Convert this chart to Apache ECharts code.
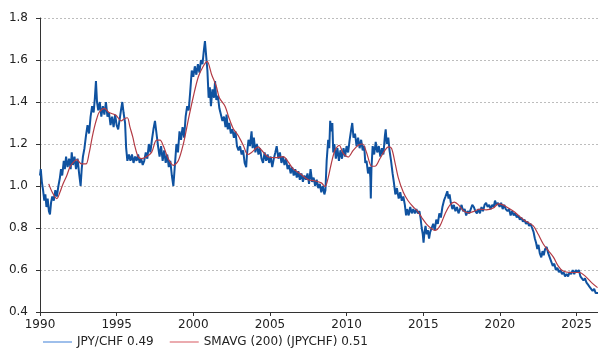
<!DOCTYPE html>
<html>
<head>
<meta charset="utf-8">
<title>JPY/CHF</title>
<script src="https://cdn.jsdelivr.net/npm/echarts@6/dist/echarts.min.js"></script>
<style>
  html, body { margin: 0; padding: 0; background: #fff; }
  #chart { width: 598px; height: 351px; }
</style>
</head>
<body>
<div id="chart"></div>
<script>
// JPY/CHF spot rate (decimal year, rate)
const spotYears = [
  1990.00,1990.05,1990.12,1990.20,1990.28,1990.35,1990.42,1990.50,1990.58,1990.65,1990.72,1990.80,1990.90,
  1991.00,1991.10,1991.20,1991.30,1991.37,1991.45,1991.55,1991.62,1991.70,1991.80,1991.90,
  1992.00,1992.07,1992.15,1992.25,1992.35,1992.45,1992.55,1992.65,1992.72,1992.80,1992.90,
  1993.00,1993.10,1993.20,1993.30,1993.40,1993.50,1993.58,1993.65,1993.72,1993.80,1993.90,
  1994.00,1994.10,1994.20,1994.30,1994.40,1994.50,1994.60,1994.70,1994.80,1994.90,
  1995.00,1995.10,1995.20,1995.30,1995.37,1995.45,1995.55,1995.62,1995.70,1995.80,1995.90,
  1996.00,1996.10,1996.20,1996.30,1996.40,1996.50,1996.60,1996.70,1996.80,1996.90,
  1997.00,1997.10,1997.20,1997.30,1997.40,1997.50,1997.60,1997.70,1997.80,1997.90,
  1998.00,1998.10,1998.20,1998.30,1998.40,1998.50,1998.60,1998.70,1998.78,1998.90,
  1999.00,1999.10,1999.20,1999.30,1999.40,1999.50,1999.60,1999.70,1999.80,1999.90,
  2000.00,2000.10,2000.20,2000.30,2000.40,2000.50,2000.60,2000.68,2000.76,2000.85,2000.92,
  2001.00,2001.08,2001.15,2001.25,2001.35,2001.42,2001.50,2001.60,2001.70,2001.80,2001.90,
  2002.00,2002.10,2002.17,2002.25,2002.35,2002.45,2002.55,2002.65,2002.75,2002.85,2002.95,
  2003.05,2003.15,2003.25,2003.35,2003.45,2003.50,2003.60,2003.70,2003.80,2003.87,2003.95,
  2004.05,2004.15,2004.25,2004.35,2004.45,2004.55,2004.65,2004.75,2004.85,2004.95,
  2005.05,2005.15,2005.25,2005.35,2005.44,2005.55,2005.65,2005.75,2005.85,2005.95,
  2006.05,2006.15,2006.25,2006.35,2006.45,2006.55,2006.65,2006.75,2006.85,2006.95,
  2007.05,2007.15,2007.25,2007.35,2007.45,2007.55,2007.65,2007.75,2007.85,2007.95,
  2008.05,2008.15,2008.25,2008.35,2008.45,2008.55,2008.62,2008.70,2008.80,2008.87,2008.93,
  2009.00,2009.07,2009.13,2009.20,2009.30,2009.40,2009.50,2009.60,2009.70,2009.80,2009.90,
  2010.00,2010.10,2010.20,2010.30,2010.37,2010.45,2010.55,2010.65,2010.75,2010.85,2010.95,
  2011.05,2011.15,2011.22,2011.30,2011.40,2011.50,2011.55,2011.58,2011.62,2011.70,2011.80,2011.90,
  2012.00,2012.10,2012.20,2012.30,2012.40,2012.50,2012.55,2012.62,2012.72,2012.80,2012.90,
  2013.00,2013.08,2013.18,2013.28,2013.40,2013.50,2013.60,2013.70,2013.80,2013.88,2013.95,
  2014.05,2014.15,2014.25,2014.35,2014.45,2014.55,2014.65,2014.75,2014.82,2014.90,2014.97,
  2015.02,2015.08,2015.15,2015.22,2015.30,2015.38,2015.45,2015.55,2015.65,2015.75,2015.85,2015.95,
  2016.05,2016.15,2016.25,2016.35,2016.45,2016.57,2016.65,2016.72,2016.80,2016.90,
  2017.00,2017.10,2017.20,2017.30,2017.40,2017.50,2017.60,2017.70,2017.80,2017.90,
  2018.00,2018.10,2018.20,2018.30,2018.40,2018.50,2018.60,2018.70,2018.80,2018.90,
  2019.00,2019.10,2019.20,2019.30,2019.40,2019.50,2019.60,2019.68,2019.78,2019.88,2019.98,
  2020.08,2020.18,2020.28,2020.38,2020.50,2020.60,2020.70,2020.80,2020.90,
  2021.00,2021.10,2021.20,2021.30,2021.40,2021.50,2021.60,2021.70,2021.80,2021.90,
  2022.00,2022.10,2022.20,2022.28,2022.36,2022.44,2022.52,2022.60,2022.70,2022.78,2022.86,2022.95,
  2023.05,2023.15,2023.25,2023.35,2023.45,2023.55,2023.65,2023.75,2023.85,2023.95,
  2024.05,2024.15,2024.25,2024.35,2024.45,2024.55,2024.65,2024.75,2024.85,2024.95,
  2025.05,2025.15,2025.25,2025.35,2025.45,2025.55,2025.65,2025.75,2025.85,2025.95,
  2026.05,2026.15,2026.25,2026.35,2026.40
];
const spotRates = [
  1.05,1.08,1.02,0.98,0.93,0.96,0.90,0.94,0.88,0.865,0.92,0.95,0.93,
  0.98,0.95,1.00,1.04,1.08,1.05,1.12,1.08,1.14,1.09,1.13,
  1.08,1.16,1.10,1.14,1.08,1.13,1.06,1.00,1.08,1.14,1.18,
  1.24,1.29,1.25,1.33,1.38,1.35,1.42,1.50,1.40,1.36,1.40,
  1.33,1.38,1.34,1.40,1.33,1.35,1.29,1.33,1.28,1.34,
  1.29,1.27,1.32,1.37,1.40,1.35,1.30,1.18,1.12,1.15,1.12,
  1.15,1.11,1.14,1.12,1.15,1.11,1.13,1.10,1.12,1.16,
  1.13,1.20,1.16,1.22,1.27,1.31,1.25,1.19,1.14,1.19,
  1.12,1.17,1.11,1.15,1.09,1.12,1.05,1.00,1.08,1.20,
  1.16,1.26,1.22,1.28,1.23,1.33,1.38,1.36,1.45,1.55,
  1.52,1.57,1.53,1.58,1.54,1.60,1.58,1.64,1.69,1.61,1.55,
  1.42,1.47,1.38,1.46,1.42,1.50,1.41,1.43,1.37,1.34,1.31,
  1.33,1.28,1.34,1.27,1.30,1.25,1.27,1.23,1.26,1.19,1.17,
  1.19,1.15,1.17,1.11,1.09,1.15,1.22,1.19,1.26,1.18,1.23,
  1.16,1.20,1.15,1.18,1.13,1.11,1.16,1.12,1.15,1.11,
  1.14,1.09,1.13,1.16,1.19,1.13,1.16,1.11,1.14,1.10,
  1.13,1.08,1.10,1.06,1.09,1.05,1.08,1.04,1.07,1.03,
  1.06,1.02,1.05,1.03,1.06,1.01,1.08,1.02,1.04,1.00,
  1.03,0.99,1.01,0.97,1.00,0.96,0.98,1.12,1.22,1.18,1.31,
  1.26,1.30,1.16,1.20,1.13,1.18,1.12,1.17,1.13,1.18,1.14,
  1.19,1.16,1.22,1.27,1.30,1.23,1.25,1.19,1.23,1.18,1.22,
  1.17,1.19,1.11,1.12,1.06,1.09,1.04,0.94,1.08,1.19,1.15,1.21,
  1.16,1.19,1.14,1.18,1.15,1.24,1.27,1.20,1.23,1.17,1.12,
  1.06,1.02,0.96,0.99,0.94,0.97,0.93,0.95,0.91,0.86,0.89,
  0.86,0.90,0.87,0.89,0.87,0.89,0.87,0.88,0.85,0.80,0.77,
  0.73,0.78,0.81,0.77,0.79,0.75,0.78,0.80,0.82,0.79,0.84,0.82,
  0.87,0.85,0.90,0.93,0.95,0.975,0.94,0.96,0.92,0.89,
  0.91,0.88,0.90,0.87,0.89,0.91,0.88,0.89,0.86,0.88,
  0.87,0.89,0.91,0.90,0.88,0.87,0.89,0.87,0.90,0.88,
  0.91,0.92,0.90,0.91,0.89,0.91,0.90,0.93,0.91,0.92,0.90,
  0.92,0.89,0.91,0.89,0.88,0.89,0.86,0.88,0.86,
  0.87,0.85,0.86,0.84,0.85,0.83,0.84,0.82,0.83,0.81,
  0.82,0.80,0.78,0.75,0.73,0.70,0.72,0.68,0.66,0.69,0.67,0.70,
  0.71,0.68,0.66,0.64,0.62,0.63,0.60,0.61,0.59,0.60,
  0.58,0.59,0.57,0.58,0.57,0.59,0.58,0.60,0.58,0.60,
  0.59,0.60,0.57,0.56,0.55,0.56,0.54,0.53,0.52,0.51,
  0.50,0.51,0.49,0.495,0.49
];

// 200-day simple moving average (decimal year, rate)
const smaYears = [
  1990.57,1990.80,1991.10,1991.30,1991.50,1991.75,1991.95,1992.20,1992.40,1992.70,
  1993.00,1993.20,1993.40,1993.55,1993.70,1993.85,1994.20,1994.50,1994.95,1995.30,
  1995.50,1995.70,1995.87,1996.05,1996.20,1996.40,1996.63,1996.96,1997.28,1997.60,
  1997.83,1998.05,1998.37,1998.70,1999.02,1999.35,1999.67,2000.00,2000.33,2000.65,
  2000.90,2001.20,2001.50,2001.70,2002.07,2002.30,2002.60,2002.93,2003.26,2003.55,
  2003.80,2004.24,2004.46,2004.90,2005.33,2005.87,2006.20,2006.50,2006.96,2007.50,
  2007.90,2008.35,2008.60,2008.80,2009.00,2009.24,2009.52,2009.78,2010.10,2010.43,
  2010.76,2011.04,2011.30,2011.63,2011.85,2012.17,2012.50,2012.72,2012.93,2013.15,
  2013.37,2013.70,2014.00,2014.35,2014.60,2014.90,2015.20,2015.55,2015.76,2016.09,
  2016.42,2016.75,2017.03,2017.30,2017.60,2017.94,2018.26,2018.70,2019.10,2019.57,
  2019.90,2020.20,2020.55,2020.98,2021.20,2021.64,2022.18,2022.50,2022.83,2023.16,
  2023.50,2023.80,2024.10,2024.57,2024.90,2025.20,2025.55,2025.98,2026.37
];
const smaRates = [
  1.01,0.97,0.94,0.97,1.01,1.05,1.09,1.115,1.126,1.105,
  1.105,1.155,1.23,1.28,1.32,1.35,1.37,1.35,1.337,1.31,
  1.32,1.325,1.28,1.234,1.186,1.14,1.13,1.14,1.16,1.218,
  1.218,1.19,1.13,1.098,1.12,1.20,1.314,1.425,1.52,1.57,
  1.593,1.53,1.475,1.42,1.38,1.33,1.274,1.24,1.194,1.15,
  1.16,1.186,1.17,1.138,1.135,1.14,1.114,1.083,1.059,1.03,
  1.025,1.015,0.997,1.04,1.106,1.17,1.194,1.155,1.138,1.17,
  1.194,1.20,1.16,1.094,1.094,1.13,1.17,1.186,1.18,1.114,
  1.04,0.97,0.931,0.90,0.883,0.85,0.82,0.796,0.788,0.81,
  0.867,0.91,0.923,0.91,0.883,0.872,0.878,0.89,0.886,0.895,
  0.915,0.91,0.895,0.875,0.86,0.835,0.81,0.77,0.724,0.692,
  0.66,0.62,0.596,0.588,0.588,0.588,0.572,0.54,0.516
];

const seriesNames = ['JPY/CHF 0.49', 'SMAVG (200) (JPYCHF) 0.51'];
// x axis runs from the first observation to the last one; labels every 5 years
const yearTicks = { min: 1990, max: 2026.4, step: 5 };
const rateTicks = { min: 0.4, max: 1.8, step: 0.2 };

const zip = (xs, ys) => xs.map((x, i) => [x, ys[i]]);

const chart = echarts.init(document.getElementById('chart'), null, { renderer: 'canvas' });

const font = 'DejaVu Sans, Verdana, sans-serif';

chart.setOption({
  animation: false,
  backgroundColor: '#ffffff',
  textStyle: { fontFamily: font },
  grid: { left: 40, right: 0, top: 18, bottom: 39, containLabel: false, outerBoundsMode: 'none' },
  legend: {
    left: 43,
    top: 336,
    padding: 0,
    itemWidth: 29,
    itemHeight: 1,
    itemGap: 16,
    icon: 'rect',
    textStyle: { fontFamily: font, fontSize: 12, color: '#222' },
    data: [
      { name: seriesNames[0], itemStyle: { color: '#3d7fd6' } },
      { name: seriesNames[1], itemStyle: { color: '#d6575f' } }
    ]
  },
  xAxis: {
    type: 'value',
    min: yearTicks.min,
    max: yearTicks.max,
    interval: yearTicks.step,
    axisLine: { show: true, lineStyle: { color: '#333', width: 1 } },
    axisTick: { show: true, length: 4, inside: false, lineStyle: { color: '#333' } },
    axisLabel: { color: '#222', fontSize: 12, fontFamily: font, margin: 7,
      showMaxLabel: false,
      formatter: v => (Math.abs(v - Math.round(v)) < 1e-6 ? String(Math.round(v)) : '') },
    splitLine: { show: false }
  },
  yAxis: {
    type: 'value',
    min: rateTicks.min,
    max: rateTicks.max,
    interval: rateTicks.step,
    axisLine: { show: true, lineStyle: { color: '#333', width: 1 } },
    axisTick: { show: true, length: 4, inside: false, lineStyle: { color: '#333' } },
    axisLabel: { color: '#222', fontSize: 12, fontFamily: font, margin: 12,
      formatter: v => v.toFixed(1) },
    splitLine: { show: true, lineStyle: { color: '#bdbdbd', type: [2, 2], width: 1 } }
  },
  series: [
    {
      name: seriesNames[0],
      type: 'line',
      data: zip(spotYears, spotRates),
      showSymbol: false,
      lineStyle: { color: '#0f52a0', width: 2 },
      itemStyle: { color: '#0f52a0' },
      z: 2
    },
    {
      name: seriesNames[1],
      type: 'line',
      data: zip(smaYears, smaRates),
      showSymbol: false,
      smooth: 0.3,
      lineStyle: { color: '#b33b45', width: 1.2 },
      itemStyle: { color: '#b33b45' },
      z: 3
    }
  ]
});
</script>
</body>
</html>
